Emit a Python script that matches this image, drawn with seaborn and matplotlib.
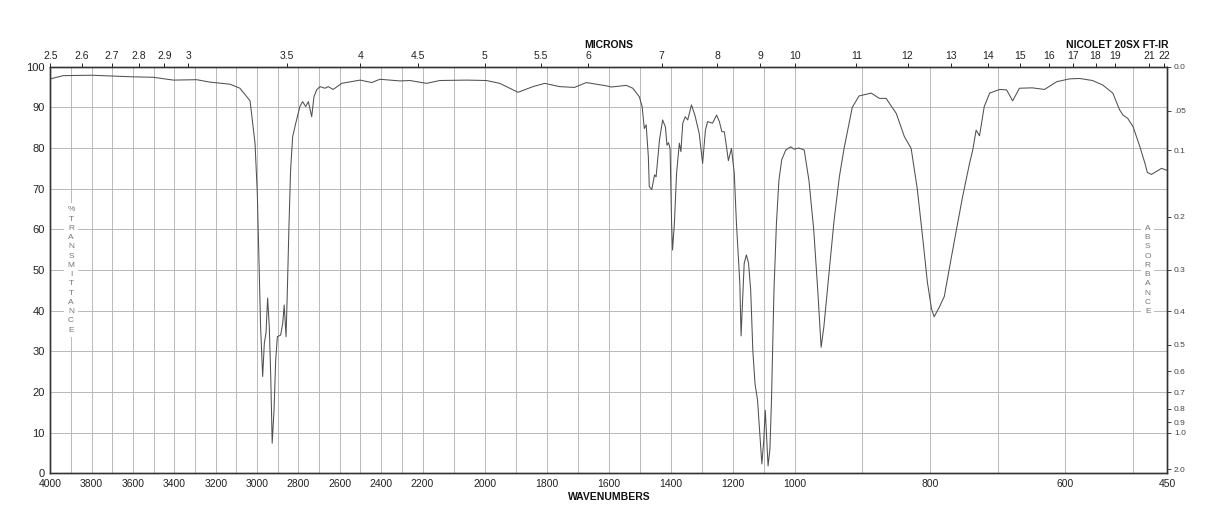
import numpy as np
import matplotlib
matplotlib.use("Agg")
import matplotlib.pyplot as plt
import seaborn as sns

# spectrum (cm-1, %T)
wavenumber = [4000, 3937, 3800, 3599, 3503, 3405, 3292, 3228, 3131, 3083, 3034, 3010, 2999, 2991,
              2983, 2973, 2965, 2957, 2949, 2941, 2934, 2927, 2918, 2910, 2902, 2886, 2876, 2869,
              2860, 2854, 2846, 2838, 2828, 2813, 2793, 2780, 2765, 2752, 2736, 2725, 2712, 2696,
              2672, 2656, 2632, 2591, 2502, 2446, 2406, 2309, 2261, 2187, 2144, 2058, 1994, 1951,
              1892, 1844, 1806, 1758, 1710, 1672, 1608, 1592, 1543, 1522, 1501, 1492, 1485, 1479,
              1472, 1469, 1461, 1452, 1447, 1436, 1426, 1417, 1412, 1407, 1402, 1397, 1394, 1388,
              1381, 1372, 1367, 1361, 1353, 1345, 1333, 1322, 1308, 1297, 1288, 1281, 1265, 1252,
              1243, 1235, 1227, 1220, 1214, 1204, 1195, 1188, 1177, 1173, 1163, 1156, 1149, 1142,
              1135, 1128, 1120, 1112, 1106, 1100, 1095, 1090, 1086, 1080, 1075, 1071, 1067, 1059,
              1051, 1042, 1029, 1013, 1002, 994, 986, 979, 972, 966, 961, 957, 949, 942, 934, 927,
              915, 905, 887, 875, 865, 850, 838, 828, 819, 811, 804, 798, 794, 786, 779, 772, 761,
              752, 742, 737, 732, 727, 720, 712, 697, 687, 678, 668, 649, 631, 613, 594, 579, 560,
              545, 530, 520, 515, 508, 500, 490, 483, 479, 473, 465, 458, 450]
transmittance = [97.0, 97.8, 97.9, 97.5, 97.4, 96.7, 96.8, 96.2, 95.7, 94.7, 91.6, 81.2, 68.9, 52.5,
                 36.0, 23.8, 32.0, 34.5, 43.1, 36.0, 23.8, 7.4, 15.6, 27.9, 33.6, 34.0, 36.9, 41.4,
                 33.6, 44.3, 60.6, 74.6, 82.8, 86.1, 90.2, 91.4, 90.2, 91.4, 87.7, 92.6, 94.3, 95.1,
                 94.7, 95.1, 94.4, 95.9, 96.7, 96.1, 96.9, 96.5, 96.6, 95.9, 96.6, 96.7, 96.6, 95.9,
                 93.7, 95.1, 95.9, 95.1, 94.9, 96.1, 95.3, 95.0, 95.4, 94.7, 92.6, 90.2, 84.8, 85.7,
                 77.9, 70.5, 69.8, 73.4, 72.9, 82.0, 86.9, 85.2, 80.7, 81.3, 79.9, 61.5, 54.9, 61.5,
                 73.8, 81.2, 79.1, 86.1, 87.7, 86.9, 90.6, 88.1, 83.6, 76.2, 84.4, 86.5, 86.1, 88.1,
                 86.5, 84.0, 84.0, 80.3, 76.9, 79.9, 73.8, 61.5, 46.7, 33.8, 51.6, 53.7, 51.7, 45.0,
                 30.0, 22.0, 18.0, 9.0, 2.3, 8.0, 15.5, 8.0, 1.8, 6.0, 18.0, 32.0, 45.0, 61.5,
                 72.1, 77.1, 79.5, 80.3, 79.7, 80.0, 79.5, 72.0, 60.0, 45.0, 31.0, 36.0, 50.0, 62.0,
                 73.0, 80.0, 90.0, 92.8, 93.5, 92.2, 92.2, 88.5, 82.8, 79.9, 70.0, 58.0, 47.0, 40.5,
                 38.5, 41.0, 43.5, 50.0, 60.0, 68.0, 76.0, 79.5, 84.4, 83.0, 90.2, 93.5, 94.4, 94.3,
                 91.6, 94.7, 94.8, 94.4, 96.3, 97.0, 97.1, 96.6, 95.5, 93.5, 89.4, 88.1, 87.3, 85.2,
                 80.3, 76.5, 74.0, 73.5, 74.3, 75.0, 74.5]

bottom_ticks = [4000, 3800, 3600, 3400, 3200, 3000, 2800, 2600, 2400, 2200, 2000, 1800, 1600,
                1400, 1200, 1000, 800, 600, 450]
grid_wn = list(range(3900, 1000, -100)) + [900, 800, 700, 600, 500]
microns = [2.5, 2.6, 2.7, 2.8, 2.9, 3, 3.5, 4, 4.5, 5, 5.5, 6, 7, 8, 9, 10, 11, 12, 13, 14, 15,
           16, 17, 18, 19, 21, 22]
micron_labels = ["2.5", "2.6", "2.7", "2.8", "2.9", "3", "3.5", "4", "4.5", "5", "5.5", "6", "7",
                 "8", "9", "10", "11", "12", "13", "14", "15", "16", "17", "18", "19", "21", "22"]
absorbance = [0.0, 0.05, 0.1, 0.2, 0.3, 0.4, 0.5, 0.6, 0.7, 0.8, 0.9, 1.0, 2.0]
absorbance_labels = ["0.0", ".05", "0.1", "0.2", "0.3", "0.4", "0.5", "0.6", "0.7", "0.8",
                     "0.9", "1.0", "2.0"]

# three equal-width pieces of the wavenumber axis
brk = [450, 1000, 2200, 4000]


def fwd(w):
    return np.interp(np.asarray(w, dtype=float), brk, [0, 1, 2, 3])


def inv(u):
    return np.interp(np.asarray(u, dtype=float), [0, 1, 2, 3], brk)


sns.set_theme(style="white")
plt.rcParams['font.family'] = ['Liberation Sans', 'DejaVu Sans']

fig = plt.figure(figsize=(12.18, 5.28), dpi=100)
ax = fig.add_axes([0.0413, 0.1036, 0.9168, 0.7701])

sns.lineplot(x=wavenumber, y=transmittance, ax=ax, color="#505050", lw=0.75,
             estimator=None, sort=False, zorder=4)
ax.set_xscale('function', functions=(fwd, inv))
ax.set_xlim(4000, 450)
ax.set_ylim(0, 100)

ax.set_xticks(bottom_ticks)
ax.set_xticklabels([str(t) for t in bottom_ticks])
ax.set_xticks(grid_wn, minor=True)
ax.set_yticks(range(0, 101, 10))
ax.grid(which='both', axis='x', color='#b4b4b4', lw=0.65)
ax.grid(which='major', axis='y', color='#b4b4b4', lw=0.65)
ax.tick_params(which='both', length=0, labelsize=7.5, colors='#222222')
ax.tick_params(axis='x', pad=4)
ax.tick_params(axis='y', labelsize=8, pad=4)
ax.set_xlabel("")
ax.set_ylabel("")

# microns on top
axt = ax.twiny()
axt.set_xscale('function', functions=(fwd, inv))
axt.set_xlim(4000, 450)
axt.set_xticks([10000 / m for m in microns])
axt.set_xticklabels(micron_labels)
axt.tick_params(axis='x', length=3, width=0.7, labelsize=7.5, pad=1, colors='#222222')
axt.grid(False)

# absorbance on the right
axr = ax.twinx()
axr.set_ylim(0, 100)
axr.set_yticks([100 * 10 ** (-a) for a in absorbance])
axr.set_yticklabels(absorbance_labels)
axr.tick_params(axis='y', length=3, width=0.7, labelsize=6, pad=2, colors='#444444')
axr.grid(False)

for a in (ax, axt, axr):
    for s in a.spines.values():
        s.set_color('#333333')
        s.set_linewidth(0.9)

ax.text(0.0185, 0.5, "\n".join("%TRANSMITTANCE"), transform=ax.transAxes, ha='center',
        va='center', fontsize=6, color='#777777', linespacing=1.45, zorder=5,
        bbox=dict(fc='white', ec='none', pad=2.5))
ax.text(0.9827, 0.5, "\n".join("ABSORBANCE"), transform=ax.transAxes, ha='center',
        va='center', fontsize=6, color='#777777', linespacing=1.45, zorder=5,
        bbox=dict(fc='white', ec='none', pad=2.5))

fig.text(0.5, 1 - 44.7 / 528, "MICRONS", ha='center', va='center', fontsize=7.5,
         fontweight='bold', color='#111111')
fig.text(1169 / 1218, 1 - 44.7 / 528, "NICOLET 20SX FT-IR", ha='right', va='center',
         fontsize=7.5, fontweight='bold', color='#111111')
fig.text(0.5, 1 - 496.7 / 528, "WAVENUMBERS", ha='center', va='center', fontsize=7.5,
         fontweight='bold', color='#111111')

fig.savefig("out.png", dpi=100, facecolor='white')
